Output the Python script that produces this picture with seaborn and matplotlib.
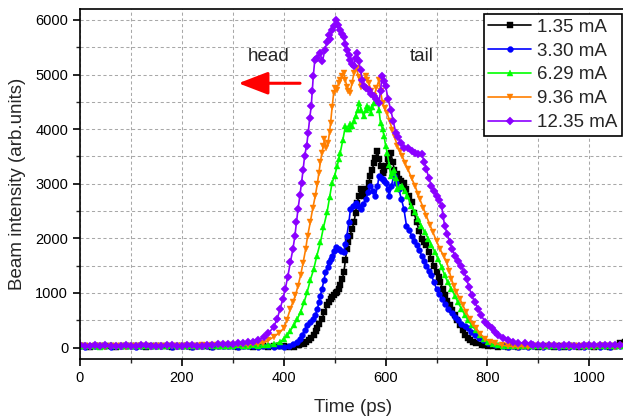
import numpy as np
import pandas as pd
import seaborn as sns
import matplotlib.pyplot as plt
from matplotlib.ticker import MultipleLocator

labels = ['1.35 mA', '3.30 mA', '6.29 mA', '9.36 mA', '12.35 mA']

# pulse region (time in ps, intensity in arb. units)
black_t = [420, 430, 439, 444, 449, 454, 459, 463, 466, 470, 475, 480, 485, 488, 492, 495, 498, 502, 505, 508,
           511, 515, 518, 521, 524, 527, 530, 534, 538, 541, 544, 548, 551, 554, 557, 561, 564, 567, 570, 574,
           577, 580, 584, 587, 591, 594, 597, 600, 605, 610, 614, 617, 622, 626, 631, 636, 641, 646, 651, 656,
           661, 666, 671, 676, 680, 685, 690, 695, 700, 704, 707, 712, 716, 721, 726, 731, 736, 741, 746, 751,
           756, 761, 765, 771, 778, 790, 801]
black_y = [15, 40, 70, 100, 135, 180, 225, 300, 350, 430, 530, 650, 770, 830, 890, 920, 955, 990, 1015, 1080,
           1140, 1260, 1380, 1600, 1800, 1930, 2050, 2170, 2290, 2470, 2655, 2780, 2900, 2840, 2780, 2840, 2900, 3020, 3140, 3260,
           3385, 3480, 3600, 3450, 3330, 3200, 3260, 3325, 3450, 3570, 3400, 3260, 3170, 3080, 3050, 3020, 2900, 2780, 2660, 2470,
           2290, 2140, 1990, 1930, 1870, 1750, 1620, 1500, 1380, 1290, 1200, 1080, 955, 860, 770, 680, 590, 500, 410, 320,
           225, 180, 135, 100, 75, 45, 25]

blue_t = [400, 410, 418, 426, 431, 436, 441, 446, 452, 457, 462, 466, 469, 472, 475, 479, 482, 486, 489, 492,
          495, 499, 502, 505, 508, 513, 518, 521, 524, 528, 531, 536, 541, 546, 551, 556, 561, 566, 570, 575,
          580, 584, 587, 591, 594, 597, 600, 604, 607, 611, 616, 621, 626, 631, 636, 641, 646, 651, 656, 661,
          666, 671, 676, 680, 685, 690, 695, 700, 705, 710, 716, 723, 730, 736, 742, 749, 755, 762, 768, 775,
          783, 791, 802, 814, 830]
blue_y = [15, 30, 60, 100, 160, 225, 320, 410, 470, 530, 590, 700, 830, 950, 1075, 1230, 1380, 1470, 1560, 1620,
          1680, 1760, 1835, 1810, 1800, 1770, 1745, 1900, 2050, 2300, 2535, 2600, 2655, 2600, 2535, 2620, 2720, 2850, 2960, 2870,
          2780, 2950, 3140, 3100, 3080, 3050, 3020, 2900, 2780, 2950, 3140, 3020, 2900, 2720, 2535, 2230, 2150, 2050, 1950, 1870,
          1780, 1680, 1590, 1500, 1410, 1320, 1200, 1075, 980, 895, 800, 710, 630, 560, 500, 440, 390, 350, 290, 225,
          175, 135, 80, 40, 20]

green_t = [370, 380, 393, 400, 407, 413, 420, 427, 433, 440, 446, 452, 459, 465, 472, 478, 485, 490, 495, 500,
           505, 508, 511, 516, 521, 525, 528, 531, 534, 538, 541, 545, 548, 552, 557, 561, 564, 567, 571, 574,
           577, 581, 584, 587, 590, 594, 597, 600, 603, 607, 610, 613, 617, 620, 623, 628, 633, 638, 643, 650,
           657, 664, 670, 677, 684, 690, 697, 703, 710, 716, 722, 729, 736, 742, 749, 756, 762, 769, 777, 785,
           793, 801, 811, 821]
green_y = [40, 60, 100, 160, 225, 310, 410, 530, 650, 830, 1015, 1230, 1440, 1680, 1925, 2200, 2475, 2750, 3020, 3150,
           3325, 3450, 3570, 3800, 4050, 4000, 3995, 4100, 4050, 4150, 4240, 4350, 4480, 4350, 4240, 4350, 4420, 4380, 4300, 4400,
           4480, 4520, 4540, 4350, 4115, 4000, 3870, 3700, 3570, 3350, 3140, 3200, 3260, 3100, 2900, 2940, 2960, 2870, 2780, 2600,
           2480, 2350, 2230, 2110, 1990, 1870, 1750, 1620, 1470, 1320, 1200, 1075, 950, 830, 710, 590, 500, 410, 320, 225,
           160, 100, 65, 40]

orange_t = [340, 350, 360, 370, 380, 390, 400, 406, 413, 418, 423, 428, 433, 438, 443, 447, 452, 457, 462, 466,
            469, 472, 475, 478, 480, 483, 487, 490, 492, 495, 498, 501, 504, 508, 511, 515, 518, 521, 524, 527,
            530, 534, 538, 543, 547, 551, 556, 561, 564, 567, 572, 577, 582, 587, 590, 594, 598, 603, 608, 613,
            618, 623, 628, 633, 638, 644, 651, 658, 663, 667, 674, 680, 687, 693, 700, 707, 714, 720, 725, 729,
            734, 739, 746, 752, 758, 765, 771, 778, 786, 795, 805, 814, 828, 841]
orange_y = [60, 70, 80, 130, 195, 260, 350, 500, 710, 830, 955, 1130, 1320, 1550, 1800, 2050, 2290, 2550, 2780, 3000,
            3200, 3400, 3570, 3700, 3810, 3650, 3750, 3950, 4115, 4400, 4660, 4750, 4720, 4850, 4900, 4980, 5030, 4900, 4780, 4700,
            4660, 4850, 5030, 5120, 4950, 4780, 4880, 4970, 4900, 4840, 4700, 4600, 4750, 4900, 4700, 4480, 4380, 4290, 4150, 3990,
            3850, 3690, 3600, 3500, 3380, 3265, 3100, 2960, 2820, 2720, 2560, 2410, 2250, 2110, 1950, 1800, 1680, 1560, 1400, 1260,
            1130, 1015, 890, 770, 650, 530, 440, 350, 250, 165, 110, 75, 45, 25]

purple_t = [340, 350, 361, 370, 380, 387, 393, 398, 403, 408, 413, 418, 422, 425, 428, 432, 435, 438, 441, 445,
            448, 451, 454, 456, 458, 461, 466, 471, 476, 481, 485, 488, 491, 494, 498, 503, 507, 511, 515, 518,
            521, 525, 528, 531, 534, 537, 541, 544, 547, 551, 554, 557, 562, 567, 572, 577, 582, 587, 590, 593,
            597, 600, 605, 610, 615, 620, 625, 630, 637, 644, 651, 658, 664, 671, 676, 680, 685, 690, 695, 700,
            705, 710, 713, 716, 721, 726, 731, 736, 742, 749, 754, 759, 764, 769, 775, 782, 788, 795, 801, 808,
            814, 821, 831, 841, 850, 860, 873, 886]
purple_y = [110, 130, 195, 260, 377, 520, 711, 880, 1076, 1300, 1562, 1800, 2050, 2300, 2535, 2800, 3021, 3250, 3508, 3700,
            3933, 4200, 4420, 4700, 4966, 5270, 5300, 5392, 5250, 5453, 5600, 5726, 5650, 5818, 5880, 6000, 5900, 5818, 5750, 5696,
            5550, 5453, 5350, 5270, 5200, 5149, 5300, 5392, 5250, 5088, 4900, 4784, 4750, 4723, 4650, 4602, 4550, 4480, 4700, 4966,
            4880, 4784, 4550, 4359, 4150, 3933, 3850, 3750, 3650, 3660, 3600, 3570, 3550, 3540, 3400, 3265, 3100, 2960, 2870, 2780,
            2700, 2600, 2400, 2230, 2080, 1930, 1800, 1680, 1580, 1500, 1380, 1260, 1100, 955, 830, 710, 590, 470, 410, 350,
            280, 225, 175, 135, 110, 90, 75, 60]

# flat baseline before / after the pulse, every 10 ps
black_base_l = [20, 30, 15, 25, 35, 20, 25, 15, 30, 20, 25, 35, 20, 15, 25, 30, 20, 25, 15, 20,
                25, 20, 15, 30, 25, 20, 15, 25, 20, 30, 20, 15, 25, 20, 15, 25, 20, 15, 20, 25, 20, 15]   # 0..410
black_base_r = [20, 15, 25, 10, 20, 15, 25, 20, 30, 15, 20, 25, 15, 20, 10, 25, 20, 15, 25, 20,
                15, 20, 25, 15, 20, 90, 95]                                                               # 810..1070
blue_base_l = [25, 15, 30, 20, 35, 25, 15, 30, 20, 25, 30, 15, 20, 35, 25, 20, 30, 25, 15, 20,
               25, 20, 15, 30, 20, 25, 15, 20, 30, 25, 20, 15, 25, 20, 30, 15, 20, 25, 15, 20]            # 0..390
blue_base_r = [15, 20, 10, 25, 15, 20, 30, 15, 20, 25, 15, 20, 10, 25, 20, 15, 25, 20, 10, 20,
               15, 25, 20]                                                                                # 840..1060
green_base_l = [30, 20, 35, 25, 15, 30, 40, 20, 25, 35, 30, 20, 25, 35, 30, 25, 30, 35, 40, 25,
                30, 20, 35, 25, 30, 40, 35, 30, 25, 35, 30, 40, 35, 30, 40, 35, 40]                       # 0..360
green_base_r = [30, 20, 25, 35, 20, 30, 25, 35, 20, 30, 25, 30, 20, 35, 25, 30, 20, 25, 35, 30,
                25, 20, 30, 25, 35]                                                                       # 830..1070
orange_base_l = [20, 35, 15, 30, 25, 10, 30, 20, 35, 15, 25, 30, 20, 35, 15, 20, 25, 30, 20, 35,
                 25, 30, 20, 35, 40, 30, 45, 40, 50, 45, 50, 55, 50, 55]                                  # 0..330
orange_base_r = [20, 15, 25, 10, 20, 30, 15, 25, 20, 10, 25, 15, 20, 25, 10, 20, 15, 25, 20, 30,
                 15, 20, 25]                                                                              # 850..1070
purple_base_l = [40, 30, 25, 45, 35, 45, 30, 25, 20, 40, 35, 30, 50, 40, 30, 35, 25, 45, 40, 30,
                 30, 50, 45, 35, 35, 40, 50, 60, 60, 70, 70, 80, 90, 100]                                 # 0..330
purple_base_r = [55, 50, 40, 45, 45, 30, 40, 50, 35, 35, 40, 45, 40, 45, 55, 40, 50, 45, 55]              # 890..1070

series = [
    (black_base_l, 0, black_t, black_y, black_base_r, 810),
    (blue_base_l, 0, blue_t, blue_y, blue_base_r, 840),
    (green_base_l, 0, green_t, green_y, green_base_r, 830),
    (orange_base_l, 0, orange_t, orange_y, orange_base_r, 850),
    (purple_base_l, 0, purple_t, purple_y, purple_base_r, 890),
]

colors = ['#000000', '#0000FF', '#00FF00', '#FF7F00', '#8B00FF']
markers = ['s', 'o', '^', 'v', 'D']
msizes = [4.2, 4.2, 4.6, 4.6, 4.0]

sns.set_style('white')
plt.rcParams['font.family'] = ['Liberation Sans', 'DejaVu Sans']

fig = plt.figure(figsize=(6.23, 4.18), dpi=100)
ax = fig.add_axes([80 / 623, 59 / 418, 546 / 623, 350 / 418])

for lab, (bl, bl0, t, y, br, br0), c, m, ms in zip(labels, series, colors, markers, msizes):
    tt = list(bl0 + 10 * np.arange(len(bl))) + t + list(br0 + 10 * np.arange(len(br)))
    d = pd.DataFrame({'time': tt, 'intensity': bl + y + br})
    sns.lineplot(data=d, x='time', y='intensity', color=c, marker=m, markersize=ms,
                 markeredgewidth=0.3, markeredgecolor=c, linewidth=1.2,
                 sort=False, estimator=None, label=lab, ax=ax)

ax.set_xlim(0, 1072)
ax.set_ylim(-210, 6200)
ax.xaxis.set_major_locator(MultipleLocator(200))
ax.xaxis.set_minor_locator(MultipleLocator(100))
ax.yaxis.set_major_locator(MultipleLocator(1000))
ax.yaxis.set_minor_locator(MultipleLocator(500))
ax.grid(which='both', ls=(0, (3, 2.5)), color='#a8a8a8', lw=0.75)
ax.tick_params(which='major', direction='out', length=5, width=1.2, labelsize=10.5,
               bottom=True, left=True, colors='black')
ax.tick_params(which='minor', direction='out', length=3, width=1.0, bottom=True, left=True)
for s in ax.spines.values():
    s.set_color('black')
    s.set_linewidth(1.2)

ax.set_xlabel('Time (ps)', fontsize=13.5, labelpad=10)
ax.set_ylabel('Beam intensity (arb.units)', fontsize=13.5, labelpad=7)

ax.text(371, 5330, 'head', fontsize=13.5, ha='center', va='center')
ax.text(671, 5330, 'tail', fontsize=13.5, ha='center', va='center')
ax.annotate('', xy=(311, 4840), xytext=(432, 4840),
            arrowprops=dict(arrowstyle='-|>,head_length=1.3,head_width=0.5',
                            color='red', lw=2.2, mutation_scale=14, shrinkA=0, shrinkB=0))

leg = ax.legend(loc='upper right', bbox_to_anchor=(0.993, 0.986),
                fontsize=13.5, frameon=True, fancybox=False, edgecolor='black',
                handlelength=2.3, labelspacing=0.36, borderpad=0.25, handletextpad=0.3,
                borderaxespad=0.0)
leg.get_frame().set_linewidth(1.2)
leg.get_frame().set_alpha(1)

fig.savefig('out.png', dpi=100)
